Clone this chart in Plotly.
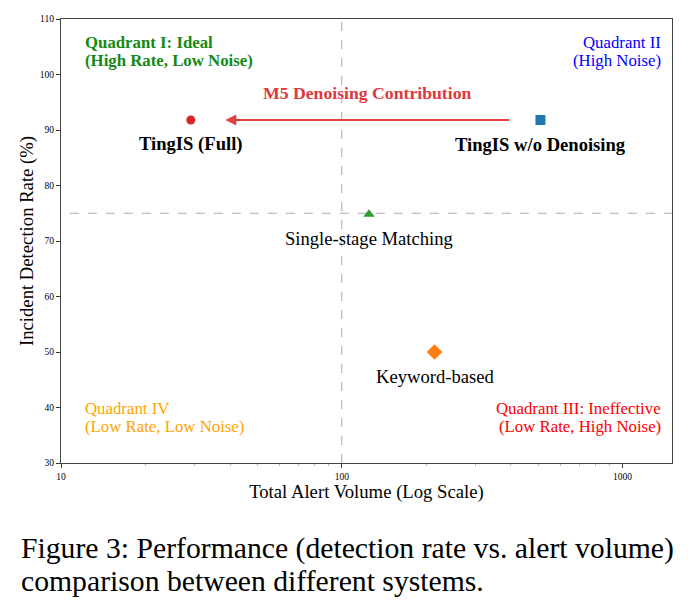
import math
import plotly.graph_objects as go

systems = ["TingIS (Full)", "TingIS w/o Denoising", "Single-stage Matching", "Keyword-based"]
alert_volume = [29, 510, 125, 214]
detection_rate = [91.8, 91.8, 74.8, 50.0]
colors = ["#d62728", "#1f77b4", "#2ca02c", "#ff7f0e"]
symbols = ["circle", "square", "triangle-up", "diamond"]
sizes = [9, 10, 10, 12]
bold_label = [True, True, False, False]
label_y = [87.4, 87.4, 70.5, 45.6]

x_threshold = 100
y_threshold = 75
x_ticks = [10, 100, 1000]
x_minor_ticks = [20, 30, 40, 50, 60, 70, 80, 90, 200, 300, 400, 500, 600, 700, 800, 900]
y_ticks = [30, 40, 50, 60, 70, 80, 90, 100, 110]

SERIF = "Liberation Serif"

fig = go.Figure()

fig.add_trace(go.Scatter(x=[x_threshold, x_threshold], y=[30, 110], mode="lines",
                         line=dict(color="#aaaaaa", width=1, dash="dash"), hoverinfo="skip", showlegend=False))
fig.add_trace(go.Scatter(x=[8, 2000], y=[y_threshold, y_threshold], mode="lines",
                         line=dict(color="#aaaaaa", width=1, dash="dash"), hoverinfo="skip", showlegend=False))

for name, xv, yv, c, s, sz in zip(systems, alert_volume, detection_rate, colors, symbols, sizes):
    fig.add_trace(go.Scatter(x=[xv], y=[yv], mode="markers", name=name,
                             marker=dict(color=c, symbol=s, size=sz, line=dict(width=0)),
                             showlegend=False))

annotations = []
for name, xv, ly, b in zip(systems, alert_volume, label_y, bold_label):
    txt = f"<b>{name}</b>" if b else name
    annotations.append(dict(x=math.log10(xv), y=ly, xref="x", yref="y",
                            text=txt, showarrow=False, yanchor="middle",
                            font=dict(family=SERIF, size=18.6, color="black")))

arrow_start = 400
arrow_end = 38.5
annotations.append(dict(x=math.log10(arrow_end), y=detection_rate[0], ax=math.log10(arrow_start), ay=detection_rate[1],
                        xref="x", yref="y", axref="x", ayref="y", text="", showarrow=True,
                        arrowhead=2, arrowsize=1, arrowwidth=2.2, arrowcolor="#e04040"))
annotations.append(dict(x=math.log10(123), y=96.7, xref="x", yref="y",
                        text="<b>M5 Denoising Contribution</b>", showarrow=False,
                        font=dict(family=SERIF, size=17.7, color="#e0383e")))

quads = [
    (["<b>Quadrant I: Ideal</b>", "<b>(High Rate, Low Noise)</b>"], 0.036, [42, 60], "left", "#138a13"),
    (["Quadrant II", "(High Noise)"], 0.985, [42, 60], "right", "#0000ff"),
    (["Quadrant IV", "(Low Rate, Low Noise)"], 0.036, [408, 426], "left", "#ffa500"),
    (["Quadrant III: Ineffective", "(Low Rate, High Noise)"], 0.985, [408, 426], "right", "#ff0000"),
]
plot_top, plot_h = 19, 444
for lines, x, ys, al, c in quads:
    for t, ypx in zip(lines, ys):
        annotations.append(dict(x=x, y=1 - (ypx - plot_top) / plot_h, xref="paper", yref="paper", text=t,
                                showarrow=False, xanchor=al, yanchor="middle", align=al,
                                font=dict(family=SERIF, size=16.8, color=c)))

caption = ["Figure 3: Performance (detection rate vs. alert volume)",
           "comparison between different systems."]
for i, line in enumerate(caption):
    ypx = 548 + i * 33
    annotations.append(dict(x=-0.068, y=1 - (ypx - plot_top) / plot_h, xref="paper", yref="paper", text=line,
                            showarrow=False, xanchor="left", yanchor="middle", align="left",
                            font=dict(family=SERIF, size=29.7, color="black")))

fig.update_layout(
    width=693, height=614,
    margin=dict(l=61, r=21, t=19, b=151),
    plot_bgcolor="white", paper_bgcolor="white",
    annotations=annotations,
    font=dict(family=SERIF, color="black"),
    xaxis=dict(type="log", range=[1, math.log10(1500)], tickvals=x_ticks, ticktext=[str(v) for v in x_ticks],
               ticks="outside", ticklen=4, tickcolor="#333", showgrid=False, zeroline=False,
               showline=True, linecolor="#444", linewidth=1.2, mirror=True,
               tickfont=dict(family=SERIF, size=9.5),
               minor=dict(tickmode="array", tickvals=x_minor_ticks, ticks="outside", ticklen=2,
                          tickcolor="#bbbbbb", showgrid=False),
               title=dict(text="Total Alert Volume (Log Scale)", font=dict(family=SERIF, size=18.7), standoff=3)),
    yaxis=dict(range=[30, 110], tickvals=y_ticks, ticks="outside", ticklen=4, tickcolor="#333",
               showgrid=False, zeroline=False, showline=True, linecolor="#444", linewidth=1.2, mirror=True,
               tickfont=dict(family=SERIF, size=9.5),
               title=dict(text="Incident Detection Rate (%)", font=dict(family=SERIF, size=18.7), standoff=1)),
)

fig.write_html("out.html")
